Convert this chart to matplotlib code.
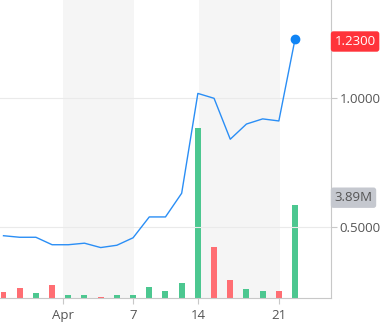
import matplotlib
matplotlib.use("Agg")
import matplotlib.pyplot as plt

plt.rcParams['font.family'] = ['Open Sans', 'DejaVu Sans']

# Data (index-based trading days)
price = [0.466, 0.460, 0.460, 0.431, 0.431, 0.437, 0.420, 0.429, 0.458, 0.539,
         0.539, 0.631, 1.019, 1.000, 0.841, 0.900, 0.920, 0.912, 1.230]
volume_m = [0.26, 0.43, 0.22, 0.56, 0.14, 0.14, 0.05, 0.14, 0.14, 0.47,
            0.31, 0.64, 7.10, 2.15, 0.77, 0.39, 0.31, 0.31, 3.89]
vol_up = [False, False, True, False, True, True, False, True, True, True,
          True, True, True, False, False, True, True, False, True]
tick_pos = [3.65, 8, 12, 17]
tick_labels = ["Apr", "7", "14", "21"]
shade_spans = [(3.65, 8.07), (12.05, 17.05)]
price_ticks = [0.5, 1.0]
last_price_label = "1.2300"
last_volume_label = "3.89M"

W, H = 392, 330
fig = plt.figure(figsize=(W / 100, H / 100), dpi=100)
ax_left, ax_right, ax_bottom, ax_top = 0 / W, 331 / W, (H - 298) / H, 1.0
rect = [ax_left, ax_bottom, ax_right - ax_left, ax_top - ax_bottom]

axv = fig.add_axes(rect)
ax = fig.add_axes(rect, sharex=axv)
ax.patch.set_alpha(0)

x = list(range(len(price)))
xlim = (-0.216, 20.22)

# Volume axis
for a, b in shade_spans:
    axv.axvspan(a, b, color='#f5f5f5', zorder=0, lw=0)
green, red = '#4cc790', '#ff6e73'
axv.bar(x, volume_m, width=0.37, color=[green if u else red for u in vol_up], zorder=2)
axv.set_ylim(0, 12.46)
axv.set_xlim(*xlim)
axv.set_yticks([])
for s in axv.spines.values():
    s.set_visible(False)
axv.tick_params(axis='x', length=0, labelbottom=False)

# Price axis
ax.set_ylim(0.224, 1.382)
ax.set_xlim(*xlim)
for yv in price_ticks:
    ax.axhline(yv, color='#eaeaea', lw=0.8, zorder=1)
ax.plot(x, price, color='#2a8ef5', lw=1.0, zorder=3)
ax.plot([x[-1]], [price[-1]], 'o', color='#0f84f5', ms=6, zorder=4)

ax.yaxis.tick_right()
ax.set_yticks(price_ticks)
ax.set_yticklabels([f"{v:.4f}" for v in price_ticks])
ax.tick_params(axis='y', length=4, color='#c8c8c8', labelsize=9.5, labelcolor='#555555', pad=2)
ax.set_xticks(tick_pos)
ax.set_xticklabels(tick_labels)
ax.tick_params(axis='x', length=4, color='#c8c8c8', labelsize=9.5, labelcolor='#555555', pad=4)
for k in ['top', 'left']:
    ax.spines[k].set_visible(False)
ax.spines['right'].set_color('#c8c8c8')
ax.spines['bottom'].set_color('#c8c8c8')
ax.spines['right'].set_linewidth(0.8)
ax.spines['bottom'].set_linewidth(0.8)

# Labels on right axis
ax.text(1.0 + 3.5 / 331, 1 - 41.5 / 298, last_price_label, transform=ax.transAxes,
        ha='left', va='center', fontsize=9.5, color='white',
        bbox=dict(boxstyle='round,pad=0.28,rounding_size=0.2', fc='#ff333a', ec='none'))
ax.text(1.0 + 3.5 / 331, 1 - 197.7 / 298, last_volume_label, transform=ax.transAxes,
        ha='left', va='center', fontsize=9.5, color='#555555',
        bbox=dict(boxstyle='round,pad=0.28,rounding_size=0.2', fc='#c5c8cf', ec='none'))

fig.savefig("out.png", dpi=100)
